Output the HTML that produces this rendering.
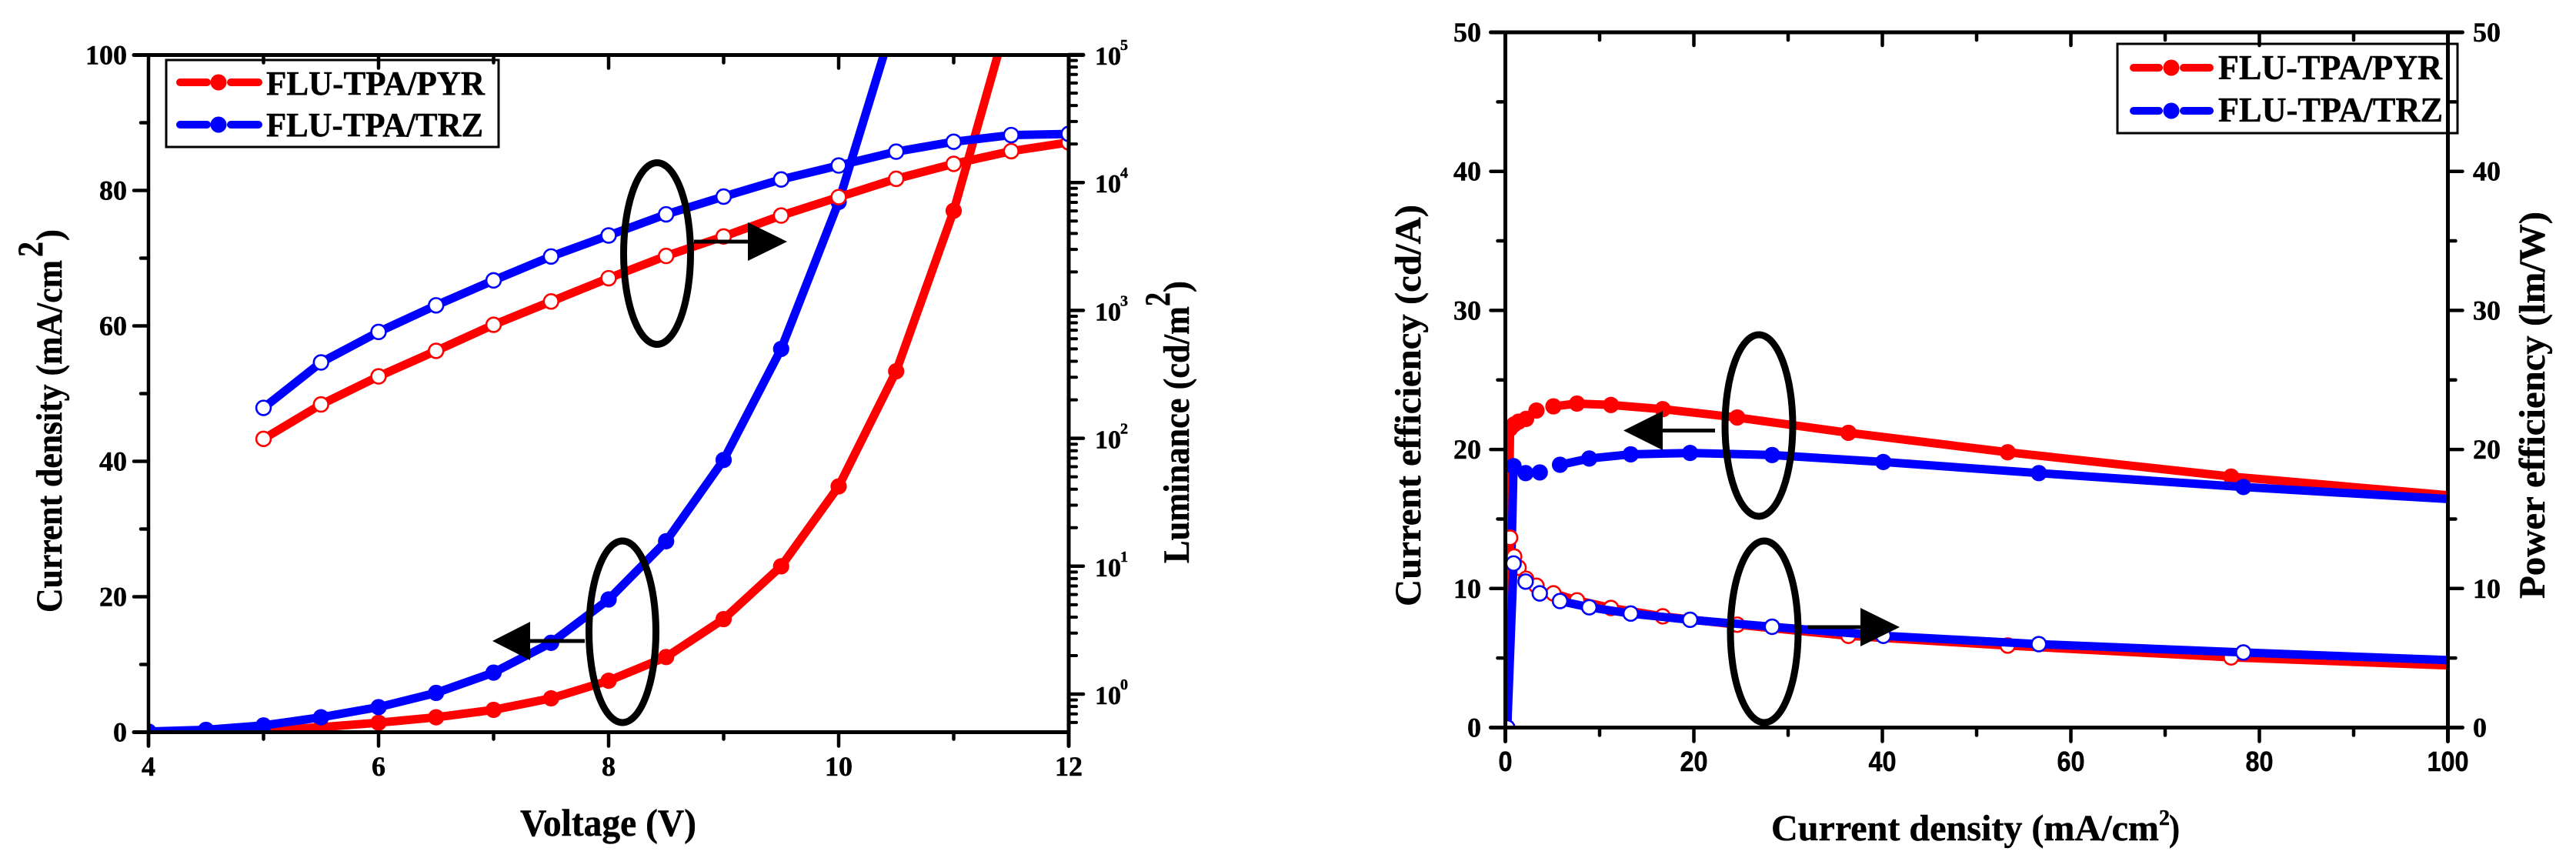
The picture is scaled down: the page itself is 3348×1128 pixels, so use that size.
<!DOCTYPE html>
<html lang="en">
<head>
<meta charset="utf-8">
<title>FLU-TPA device characteristics</title>
<style>
html,body{margin:0;padding:0;background:#fff;}
svg{display:block;}
text{font-family:"Liberation Serif",serif;font-weight:bold;fill:#000;stroke:#000;stroke-width:0.5px;}
.sans{font-family:"Liberation Sans",sans-serif;}
</style>
</head>
<body>
<svg id="fig" xmlns="http://www.w3.org/2000/svg" width="3348" height="1128" viewBox="0 0 3348 1128">
<defs>
<clipPath id="clipL"><rect x="193" y="71" width="1196" height="881"/></clipPath>
<clipPath id="clipR"><rect x="1956" y="42" width="1226" height="904"/></clipPath>
</defs>
<g id="dataL" clip-path="url(#clipL)"></g>
<g id="dataR" clip-path="url(#clipR)"></g>

<g>
<rect x="216" y="78" width="432" height="113" fill="#fff" stroke="#000" stroke-width="3"/>
<g>
<line x1="234" y1="107" x2="269" y2="107" stroke="#f00" stroke-width="10" stroke-linecap="round"/>
<line x1="300" y1="107" x2="336" y2="107" stroke="#f00" stroke-width="10" stroke-linecap="round"/>
<circle cx="284" cy="107" r="10.5" fill="#f00"/>
<text x="346" y="123" font-size="44" textLength="284" lengthAdjust="spacingAndGlyphs">FLU-TPA/PYR</text>
</g>
<g>
<line x1="234" y1="162" x2="269" y2="162" stroke="#00f" stroke-width="10" stroke-linecap="round"/>
<line x1="300" y1="162" x2="336" y2="162" stroke="#00f" stroke-width="10" stroke-linecap="round"/>
<circle cx="284" cy="162" r="10.5" fill="#00f"/>
<text x="346" y="177" font-size="44" textLength="282" lengthAdjust="spacingAndGlyphs">FLU-TPA/TRZ</text>
</g>
</g>

<g>
<rect x="2752" y="57" width="442" height="116" fill="#fff" stroke="#000" stroke-width="3"/>
<g>
<line x1="2773" y1="88" x2="2806" y2="88" stroke="#f00" stroke-width="10" stroke-linecap="round"/>
<line x1="2838" y1="88" x2="2872" y2="88" stroke="#f00" stroke-width="10" stroke-linecap="round"/>
<circle cx="2822" cy="88" r="10.5" fill="#f00"/>
<text x="2883" y="103" font-size="45" textLength="291" lengthAdjust="spacingAndGlyphs">FLU-TPA/PYR</text>
</g>
<g>
<line x1="2773" y1="144" x2="2806" y2="144" stroke="#00f" stroke-width="10" stroke-linecap="round"/>
<line x1="2838" y1="144" x2="2872" y2="144" stroke="#00f" stroke-width="10" stroke-linecap="round"/>
<circle cx="2822" cy="144" r="10.5" fill="#00f"/>
<text x="2883" y="158" font-size="45" textLength="292" lengthAdjust="spacingAndGlyphs">FLU-TPA/TRZ</text>
</g>
</g>

<g id="axesL"></g>
<g id="axesR"></g>

<g>
<ellipse cx="854" cy="329.5" rx="43.5" ry="118" fill="none" stroke="#000" stroke-width="9"/>
<line x1="902" y1="314" x2="975" y2="314" stroke="#000" stroke-width="5"/>
<polygon points="972,289 1023,314 972,339" fill="#000"/>
<ellipse cx="809" cy="821" rx="43.5" ry="118" fill="none" stroke="#000" stroke-width="9"/>
<line x1="686" y1="833" x2="760" y2="833" stroke="#000" stroke-width="5"/>
<polygon points="689,808 640,833 689,858" fill="#000"/>
</g>
<g>
<ellipse cx="2286" cy="553" rx="44" ry="118" fill="none" stroke="#000" stroke-width="9"/>
<line x1="2158" y1="559.5" x2="2229" y2="559.5" stroke="#000" stroke-width="5"/>
<polygon points="2161,534 2110,559.5 2161,585" fill="#000"/>
<ellipse cx="2293" cy="821" rx="44" ry="118" fill="none" stroke="#000" stroke-width="9"/>
<line x1="2349" y1="815" x2="2421" y2="815" stroke="#000" stroke-width="5"/>
<polygon points="2418,790 2469,815 2418,840" fill="#000"/>
</g>

<g>
<text x="676" y="1086" font-size="50" textLength="229" lengthAdjust="spacingAndGlyphs">Voltage (V)</text>
</g>
<g>
<text transform="translate(80,796) rotate(-90)" font-size="48" textLength="458" lengthAdjust="spacingAndGlyphs">Current density (mA/cm</text>
<text transform="translate(55,334) rotate(-90)" font-size="47" textLength="20" lengthAdjust="spacingAndGlyphs">2</text>
<text transform="translate(80,313) rotate(-90)" font-size="48" textLength="15" lengthAdjust="spacingAndGlyphs">)</text>
</g>
<g>
<text transform="translate(1545,732) rotate(-90)" font-size="48" textLength="334" lengthAdjust="spacingAndGlyphs">Luminance (cd/m</text>
<text transform="translate(1520,398) rotate(-90)" font-size="47" textLength="18" lengthAdjust="spacingAndGlyphs">2</text>
<text transform="translate(1545,380) rotate(-90)" font-size="48" textLength="15" lengthAdjust="spacingAndGlyphs">)</text>
</g>
<g>
<text x="2302" y="1092" font-size="48" textLength="504" lengthAdjust="spacingAndGlyphs">Current density (mA/cm</text>
<text x="2806" y="1072" font-size="28">2</text>
<text x="2819" y="1092" font-size="48" textLength="14" lengthAdjust="spacingAndGlyphs">)</text>
</g>
<text transform="translate(1846,788) rotate(-90)" font-size="48" textLength="522" lengthAdjust="spacingAndGlyphs">Current efficiency (cd/A)</text>
<text transform="translate(3307,778) rotate(-90)" font-size="48" textLength="503" lengthAdjust="spacingAndGlyphs">Power efficiency (lm/W)</text>
</svg>

<script>
// Left plot data
const voltage = [4,4.5,5,5.5,6,6.5,7,7.5,8,8.5,9,9.5,10,10.5,11,11.5];
const currentPyr = [0,0.05,0.2,0.75,1.4,2.2,3.3,5,7.6,11.1,16.7,24.5,36.3,53.3,77,107];
const currentTrz = [0.1,0.35,1,2.2,3.7,5.8,8.8,13.2,19.6,28.2,40.2,56.6,78.3,106,130,160];
const lumVoltage = [5,5.5,6,6.5,7,7.5,8,8.5,9,9.5,10,10.5,11,11.5,12];
const luminancePyr = [99,184,305,483,772,1175,1786,2667,3784,5520,7690,10690,14000,17600,20600];
const luminanceTrz = [173,392,679,1096,1718,2642,3855,5640,7760,10570,13580,17430,20840,23500,24000];
// Right plot data
const densityPyr = [0.1,0.5,0.93,1.4,2.2,3.3,5.1,7.6,11.2,16.7,24.6,36.4,53.3,77,107];
const cePyr = [0,21.5,21.8,22,22.2,22.8,23.1,23.3,23.2,22.9,22.3,21.2,19.8,18.05,16.3];
const pePyr = [0,13.65,12.3,11.5,10.7,10.2,9.65,9.15,8.6,8,7.4,6.6,5.9,5.05,4.3];
const densityTrz = [0.2,0.87,2.15,3.65,5.8,8.9,13.3,19.6,28.3,40.1,56.6,78.3,106];
const ceTrz = [0,18.8,18.3,18.35,18.9,19.35,19.65,19.75,19.6,19.1,18.3,17.3,16.2];
const peTrz = [0,11.8,10.5,9.65,9.1,8.65,8.2,7.75,7.25,6.6,6,5.4,4.7];
// Tick labels
const leftXLabels = [4,6,8,10,12];
const leftYLabels = [0,20,40,60,80,100];
const logExponents = [0,1,2,3,4,5];
const rightXLabels = [0,20,40,60,80,100];
const rightYLabels = [0,10,20,30,40,50];

const NS = 'http://www.w3.org/2000/svg';
const RED = '#f00', BLUE = '#00f';

// Axis functions
function xL(v){ return 193 + (v - 4) * 149.5; }
function yL(j){ return 951.5 - j * 8.8; }
function yLog(l){ return 902 - Math.log10(l) * 166.2; }
function xR(d){ return 1956.5 + d * 12.25; }
function yR(e){ return 945.5 - e * 18.07; }

function el(tag, parent, attrs){
  const e = document.createElementNS(NS, tag);
  for (const k in attrs) e.setAttribute(k, attrs[k]);
  parent.appendChild(e);
  return e;
}

function drawSeries(parent, xs, ys, fx, fy, color, open, name){
  const g = el('g', parent, {});
  
  
  const R = 10.6, GAP = 9, MIN = 30;
  for (let i = 0; i + 1 < xs.length; i++){
    const x1 = fx(xs[i]), y1 = fy(ys[i]), x2 = fx(xs[i+1]), y2 = fy(ys[i+1]);
    const d = Math.hypot(x2 - x1, y2 - y1);
    if (d < MIN) continue;
    const ux = (x2 - x1) / d, uy = (y2 - y1) / d;
    const seg = el('line', g, {x1: x1 + ux*GAP, y1: y1 + uy*GAP, x2: x2 - ux*GAP, y2: y2 - uy*GAP, stroke: color, 'stroke-width': 11});
    
    
  }
  for (let i = 0; i < xs.length; i++){
    const m = el('circle', g, open
      ? {cx: fx(xs[i]), cy: fy(ys[i]), r: R - 1.2, fill: '#fff', stroke: color, 'stroke-width': 2.6}
      : {cx: fx(xs[i]), cy: fy(ys[i]), r: R, fill: color});
    
    
  }
}

function hLine(parent, x1, x2, y, w, name){
  const l = el('line', parent, {x1: x1, x2: x2, y1: y, y2: y, stroke: '#000', 'stroke-width': w, 'stroke-linecap': 'round'});
  
  
}
function vLine(parent, x, y1, y2, w, name){
  const l = el('line', parent, {x1: x, x2: x, y1: y1, y2: y2, stroke: '#000', 'stroke-width': w, 'stroke-linecap': 'round'});
  
  
}
function label(parent, x, y, str, size, anchor, name, cls, len){
  const t = el('text', parent, {x: x, y: y, 'font-size': size, 'text-anchor': anchor});
  if (cls) t.setAttribute('class', cls);
  if (len){ t.setAttribute('textLength', len); t.setAttribute('lengthAdjust', 'spacingAndGlyphs'); }
  t.textContent = str;
  
  
}

const dataL = document.getElementById('dataL');
drawSeries(dataL, voltage, currentPyr, xL, yL, RED, false, 'current-density-pyr');
drawSeries(dataL, voltage, currentTrz, xL, yL, BLUE, false, 'current-density-trz');
drawSeries(dataL, lumVoltage, luminancePyr, xL, yLog, RED, true, 'luminance-pyr');
drawSeries(dataL, lumVoltage, luminanceTrz, xL, yLog, BLUE, true, 'luminance-trz');

const dataR = document.getElementById('dataR');
drawSeries(dataR, densityPyr, cePyr, xR, yR, RED, false, 'current-efficiency-pyr');
drawSeries(dataR, densityTrz, ceTrz, xR, yR, BLUE, false, 'current-efficiency-trz');
drawSeries(dataR, densityPyr, pePyr, xR, yR, RED, true, 'power-efficiency-pyr');
drawSeries(dataR, densityTrz, peTrz, xR, yR, BLUE, true, 'power-efficiency-trz');

// Left plot axes
const axL = document.getElementById('axesL');
const L0 = xL(4), L1 = xL(12), T0 = yL(100), B0 = yL(0);
for (let v = 4; v <= 12; v++){
  const major = v % 2 === 0;
  vLine(axL, xL(v), B0, B0 + (major ? 18 : 9), 4.5, 'x-tick-bottom');
  if (v > 4 && v < 12) vLine(axL, xL(v), T0, T0 + (major ? 17 : 10), 4.5, 'x-tick-top');
}
for (let j = 0; j <= 100; j += 10){
  hLine(axL, L0 - (j % 20 === 0 ? 19 : 10), L0, yL(j), 4.5, 'y-tick-left');
}
leftXLabels.forEach(function(v){ label(axL, xL(v), 1008, String(v), 36, 'middle', 'x-tick-label-' + v); });
leftYLabels.forEach(function(j){ label(axL, 165, yL(j) + 12, String(j), 36, 'end', 'y-tick-label-' + j); });
logExponents.forEach(function(e){
  const base = Math.pow(10, e);
  hLine(axL, L1, L1 + 19, yLog(base), 4.5, 'luminance-major-tick');
  label(axL, 1423, yLog(base) + 13, '10', 34, 'start', 'luminance-tick-label-' + e);
  label(axL, 1456, yLog(base) - 6, String(e), 20, 'start', 'luminance-tick-exponent-' + e);
  for (let k = 2; k <= 9; k++){
    if (e === 5) continue;
    hLine(axL, L1, L1 + 10, yLog(k * base), 4, 'luminance-minor-tick');
  }
});
for (let k = 6; k <= 9; k++){
  hLine(axL, L1, L1 + 10, yLog(k / 10), 4, 'luminance-minor-tick');
}
vLine(axL, L0, T0, B0 + 18, 4.5, 'left-y-axis-line');
vLine(axL, L1, T0, B0 + 18, 5, 'left-y2-axis-line');
hLine(axL, L0 - 19, L1 + 19, T0, 5, 'left-top-axis-line');
hLine(axL, L0 - 19, L1, B0, 5, 'left-x-axis-line');

// Right plot axes
const axR = document.getElementById('axesR');
const R0 = xR(0), R1 = xR(100), T1 = yR(50), B1 = yR(0);
for (let d = 0; d <= 100; d += 10){
  const major = d % 20 === 0;
  vLine(axR, xR(d), B1, B1 + (major ? 18 : 10), 4.5, 'x-tick-bottom');
  if (d > 0 && d < 100) vLine(axR, xR(d), T1, T1 + (major ? 17 : 10), 4.5, 'x-tick-top');
}
for (let e = 0; e <= 50; e += 5){
  const major = e % 10 === 0;
  hLine(axR, R0 - (major ? 19 : 10), R0, yR(e), 4.5, 'y-tick-left');
  hLine(axR, R1, R1 + (major ? 19 : 10), yR(e), 4.5, 'y-tick-right');
}
rightXLabels.forEach(function(d){ label(axR, xR(d), 1002, String(d), 36, 'middle', 'x-tick-label-' + d, 'sans', String(d).length * 18); });
rightYLabels.forEach(function(e){
  label(axR, 1925, yR(e) + 12, String(e), 36, 'end', 'y-tick-label-' + e);
  label(axR, 3214, yR(e) + 12, String(e), 36, 'start', 'y2-tick-label-' + e);
});
vLine(axR, R0, T1, B1 + 18, 5, 'right-y-axis-line');
vLine(axR, R1, T1, B1 + 18, 5, 'right-y2-axis-line');
hLine(axR, R0 - 19, R1 + 19, T1, 5, 'right-top-axis-line');
hLine(axR, R0 - 19, R1 + 19, B1, 5, 'right-x-axis-line');
</script>
</body>
</html>
